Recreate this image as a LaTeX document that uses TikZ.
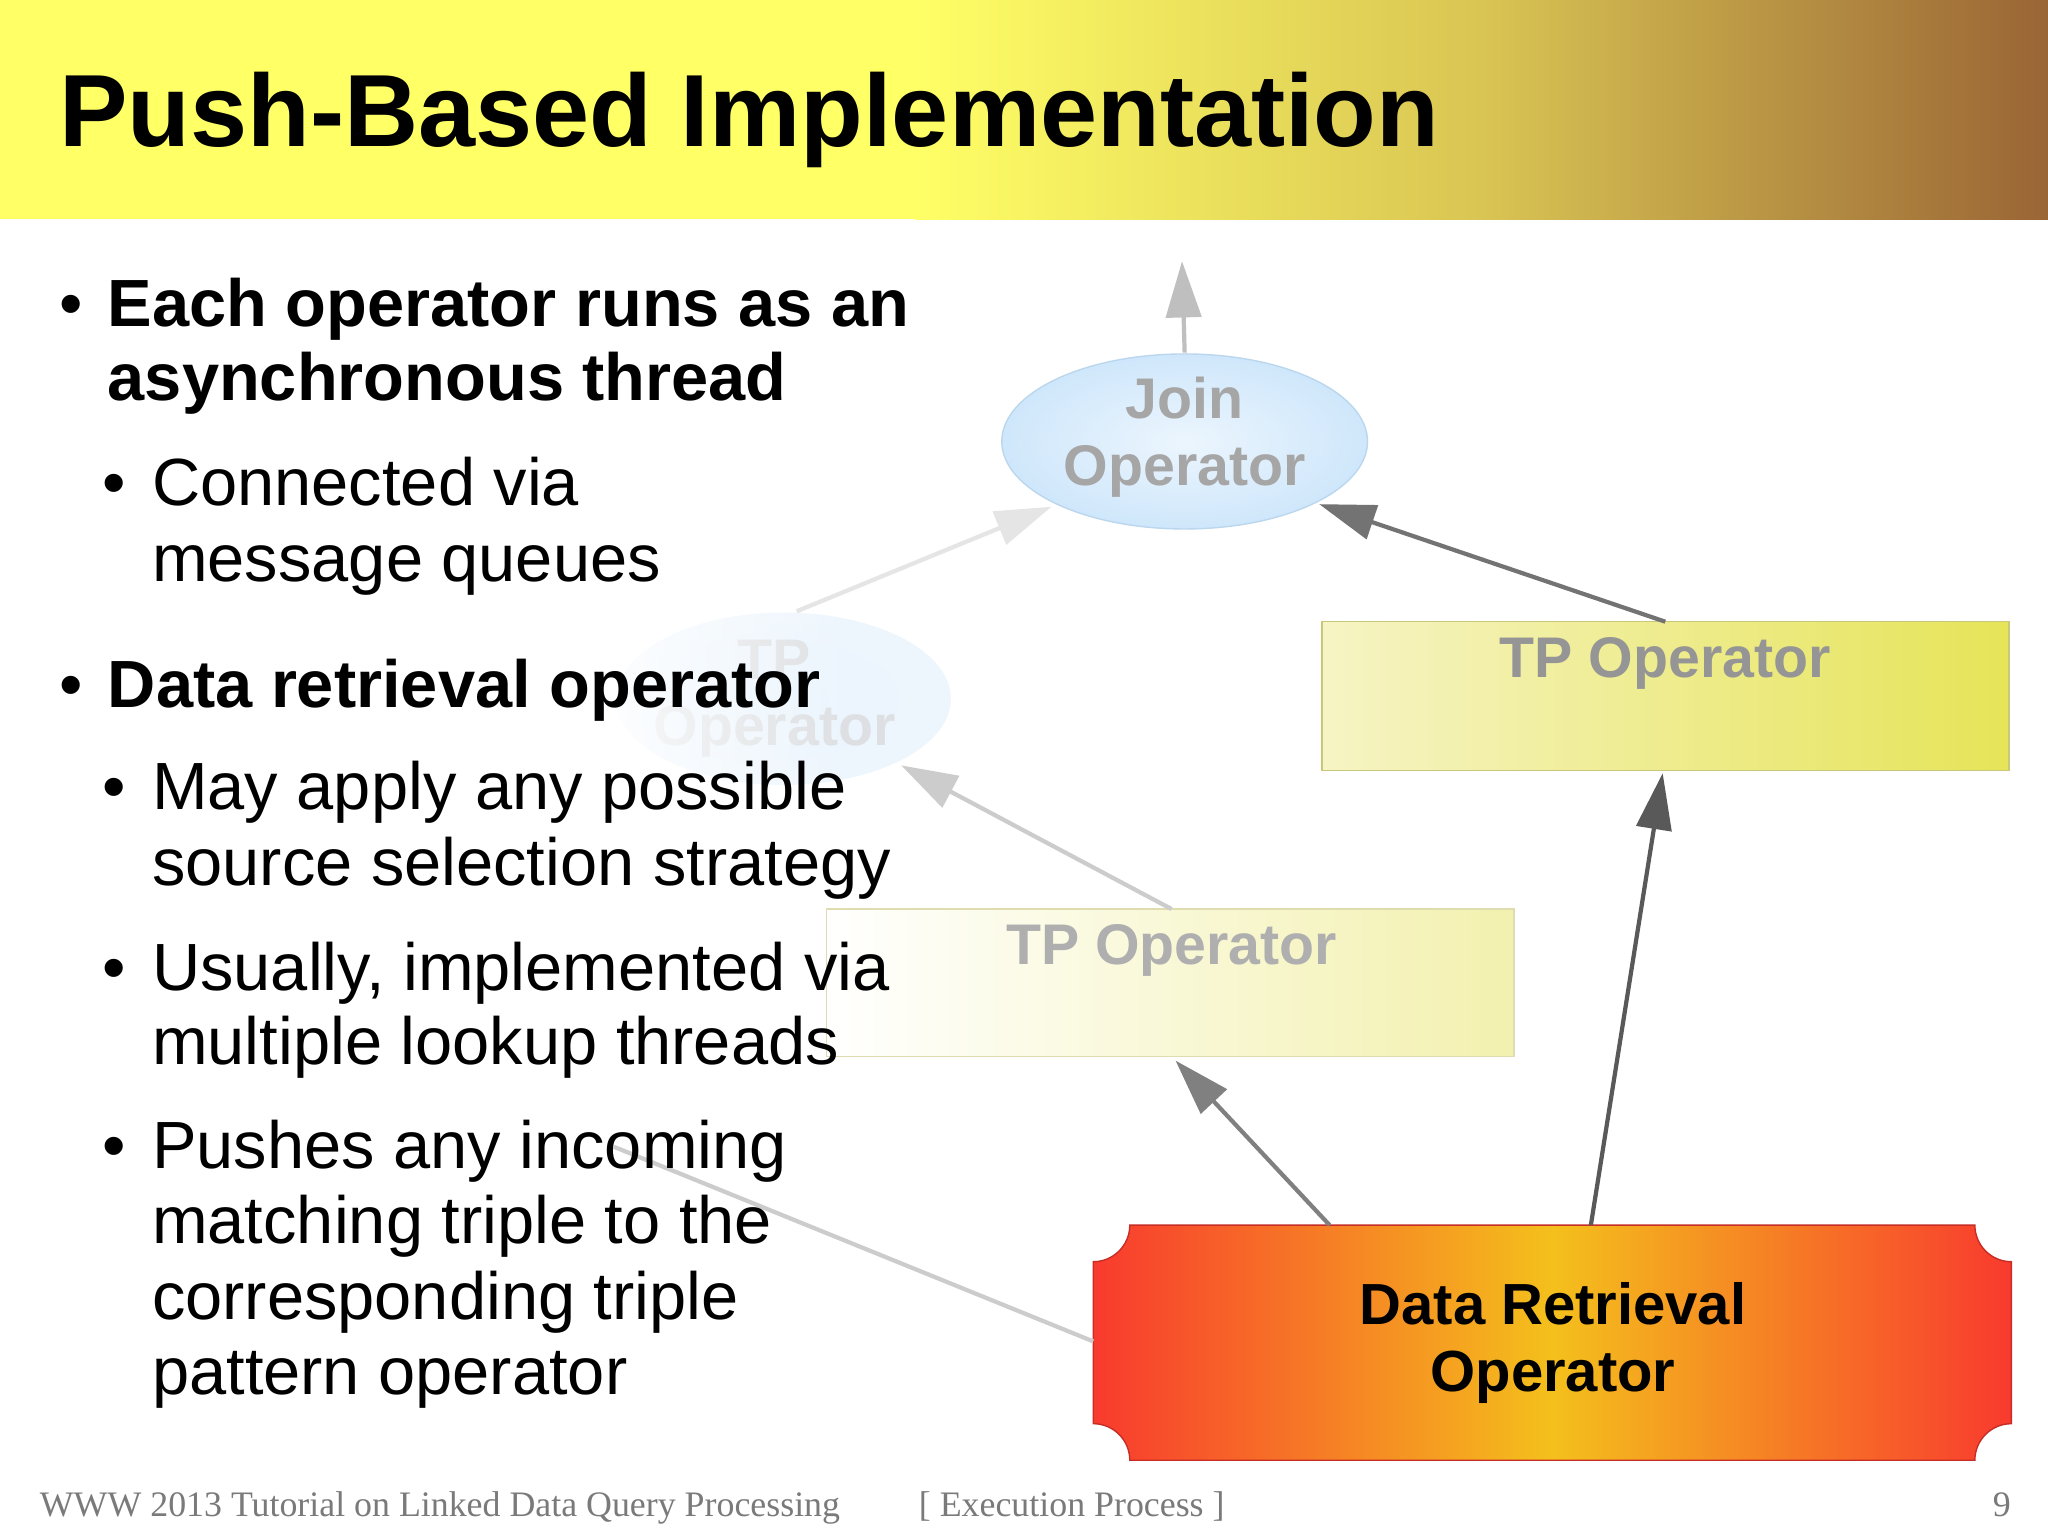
\documentclass[tikz,border=0pt]{standalone}
\usepackage{fontspec}
\setmainfont{Liberation Sans}
\newfontfamily\serifft{Liberation Serif}
\usetikzlibrary{arrows.meta,fadings}
\definecolor{ttlyel}{HTML}{FFFF66}
\definecolor{ttlbrn}{HTML}{9A6535}
\definecolor{ttlmid}{HTML}{D9C553}
\definecolor{drred}{HTML}{F83A2E}
\definecolor{drmid}{HTML}{F4C01C}
\definecolor{tpl}{HTML}{F6F4C4}
\definecolor{tpr}{HTML}{E6E458}
\definecolor{tpborder}{HTML}{C9C77A}
\definecolor{jfill}{HTML}{CFE7FB}
\definecolor{jborder}{HTML}{BBD7EE}
\definecolor{fadetext}{HTML}{A6A6A6}
\definecolor{foot}{HTML}{7A7A7A}
\tikzset{
 lvA/.style={anchor=base west,inner sep=0,font=\fontsize{19}{22}\selectfont\bfseries},
 lvB/.style={anchor=base west,inner sep=0,font=\fontsize{19}{22}\selectfont},
 bul/.style={anchor=base west,inner sep=0,font=\fontsize{19}{22}\selectfont},
 con/.style={-{Triangle[length=16pt,width=10pt]},line width=1.2pt},
 lbl/.style={font=\fontsize{16.3}{19}\selectfont\bfseries,align=center},
 ft/.style={anchor=base west,inner sep=0,font=\serifft\fontsize{10.2}{12}\selectfont,text=foot}
}
\begin{document}
\begin{tikzpicture}[x=0.01306cm,y=-0.01306cm]
\useasboundingbox (0,0) rectangle (1568,1175);
\fill[white] (0,0) rectangle (1568,1175);
% title bar
\fill[ttlyel] (0,0) rectangle (701,168);
\shade[left color=ttlyel,right color=ttlbrn,middle color=ttlmid] (700,0) rectangle (1568,168);
\node[anchor=base west,inner sep=0,font=\fontsize{29.2}{33}\selectfont\bfseries] (title) at (45,112) {Push-Based Implementation};
% faded left ellipse (behind text)
\shade[inner color=jfill!60,outer color=jfill!50,opacity=0.7] (600,535) ellipse[x radius=128,y radius=66];
\node[lbl,text=fadetext!45,opacity=0.7] (tpl) at (593,535) {TP\\Operator};
\fill[white,path fading=east] (430,440) rectangle (650,625);
\coordinate (tplTop) at (610,468);
\coordinate (tplBR) at (690,586);
% join ellipse
\shade[inner color=jfill!40,outer color=jfill,draw=jborder] (907,338) ellipse[x radius=140,y radius=67];
\node[lbl,text=fadetext] (join) at (907,335) {Join\\Operator};
\coordinate (joinTop) at (907,270);
\coordinate (out) at (905,200);
\coordinate (joinBL) at (805,388);
\coordinate (joinBR) at (1010,386);
% TP right
\shade[left color=tpl,right color=tpr,draw=tpborder] (1012,476) rectangle (1538,590);
\node[lbl,text=fadetext!90!black] (tpR) at (1275,508) {TP Operator};
\coordinate (tpRtop) at (1275,476);
\coordinate (tpRbot) at (1273,592);
% TP middle faded
\shade[left color=white,right color=tpl!80!tpr,draw=tpborder!60] (633,696) rectangle (1159,809);
\node[lbl,text=fadetext!90] (tpM) at (897,728) {TP Operator};
\coordinate (tpMtop) at (897,696);
\coordinate (tpMbot) at (900,812);
% data retrieval
\shade[left color=drred,right color=drred,middle color=drmid,draw=drred!80!black]
 (837,966) arc[start angle=90,end angle=0,radius=28]
 -- (1512,938) arc[start angle=180,end angle=90,radius=28]
 -- (1540,1090) arc[start angle=270,end angle=180,radius=28]
 -- (865,1118) arc[start angle=0,end angle=-90,radius=28] -- cycle;
\node[lbl,font=\fontsize{16.5}{19}\selectfont\bfseries] (dr) at (1189,1028) {Data Retrieval\\Operator};
\coordinate (drA) at (1018,938);
\coordinate (drB) at (1218,938);
\coordinate (drL) at (837,1027);
\coordinate (drEnd) at (470,878);
% connectors
\draw[con,color=black!25] (joinTop) -- (out);
\draw[con,color=black!10] (tplTop) -- (joinBL);
\draw[con,color=black!55] (tpRtop) -- (joinBR);
\draw[con,color=black!20] (tpMtop) -- (tplBR);
\draw[con,color=black!50] (drA) -- (tpMbot);
\draw[con,color=black!65] (drB) -- (tpRbot);
\draw[line width=1.2pt,color=black!20] (drL) -- (drEnd);
% bullets
\node[bul] (b1) at (45,250) {•};
\node[lvA] (t1a) at (82,250) {Each operator runs as an};
\node[lvA] (t1b) at (82,307) {asynchronous thread};
\node[bul] (b2) at (78,387) {•};
\node[lvB] (t2a) at (116,387) {Connected via};
\node[lvB] (t2b) at (116,445) {message queues};
\node[bul] (b3) at (45,542) {•};
\node[lvA] (t3) at (82,542) {Data retrieval operator};
\node[bul] (b4) at (78,620) {•};
\node[lvB] (t4a) at (116,620) {May apply any possible};
\node[lvB] (t4b) at (116,678) {source selection strategy};
\node[bul] (b5) at (78,758) {•};
\node[lvB] (t5a) at (116,758) {Usually, implemented via};
\node[lvB] (t5b) at (116,815) {multiple lookup threads};
\node[bul] (b6) at (78,895) {•};
\node[lvB] (t6a) at (116,895) {Pushes any incoming};
\node[lvB] (t6b) at (116,952) {matching triple to the};
\node[lvB] (t6c) at (116,1010) {corresponding triple};
\node[lvB] (t6d) at (116,1068) {pattern operator};
% footer
\node[ft] (f1) at (30,1161) {WWW 2013 Tutorial on Linked Data Query Processing};
\node[ft] (f2) at (703,1161) {[ Execution Process ]};
\node[ft,anchor=base east] (f3) at (1540,1161) {9};
\end{tikzpicture}
\end{document}
